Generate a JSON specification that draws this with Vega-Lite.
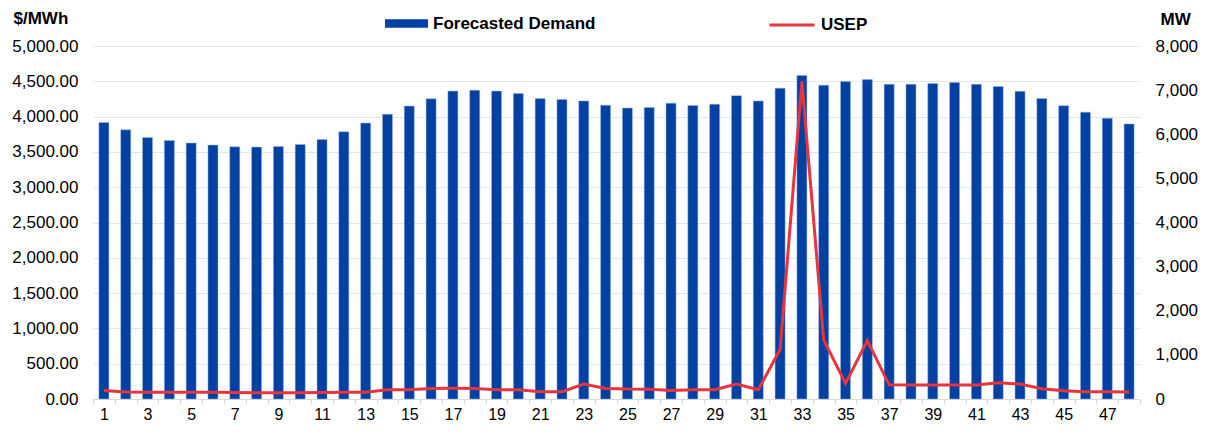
{
  "$schema": "https://vega.github.io/schema/vega-lite/v6.json",
  "width": 1047,
  "height": 353,
  "autosize": {"type": "none"},
  "padding": {"left": 93, "top": 46, "right": 68, "bottom": 33},
  "background": "white",
  "config": {
    "font": "Liberation Sans",
    "view": {"stroke": null},
    "axis": {"labelFont": "Liberation Sans", "titleFont": "Liberation Sans", "labelFontSize": 17, "labelColor": "#000000", "titleColor": "#000000", "labelOverlap": false},
    "legend": {"labelFont": "Liberation Sans", "labelFontSize": 17, "labelFontWeight": "bold", "labelColor": "#000000", "labelLimit": 400}
  },
  "data": {
    "values": [
      {"period": 1, "demand": 6269, "usep": 122},
      {"period": 2, "demand": 6101, "usep": 100},
      {"period": 3, "demand": 5928, "usep": 95},
      {"period": 4, "demand": 5861, "usep": 94},
      {"period": 5, "demand": 5800, "usep": 94},
      {"period": 6, "demand": 5754, "usep": 94},
      {"period": 7, "demand": 5715, "usep": 92},
      {"period": 8, "demand": 5709, "usep": 90},
      {"period": 9, "demand": 5725, "usep": 88},
      {"period": 10, "demand": 5770, "usep": 88},
      {"period": 11, "demand": 5883, "usep": 92},
      {"period": 12, "demand": 6056, "usep": 94},
      {"period": 13, "demand": 6253, "usep": 96},
      {"period": 14, "demand": 6456, "usep": 130},
      {"period": 15, "demand": 6638, "usep": 132},
      {"period": 16, "demand": 6803, "usep": 150},
      {"period": 17, "demand": 6978, "usep": 152},
      {"period": 18, "demand": 7000, "usep": 148},
      {"period": 19, "demand": 6978, "usep": 132},
      {"period": 20, "demand": 6926, "usep": 130},
      {"period": 21, "demand": 6808, "usep": 104},
      {"period": 22, "demand": 6786, "usep": 104},
      {"period": 23, "demand": 6755, "usep": 212},
      {"period": 24, "demand": 6659, "usep": 150},
      {"period": 25, "demand": 6594, "usep": 140},
      {"period": 26, "demand": 6608, "usep": 138},
      {"period": 27, "demand": 6704, "usep": 122},
      {"period": 28, "demand": 6653, "usep": 130},
      {"period": 29, "demand": 6682, "usep": 130},
      {"period": 30, "demand": 6875, "usep": 212},
      {"period": 31, "demand": 6755, "usep": 130},
      {"period": 32, "demand": 7045, "usep": 700},
      {"period": 33, "demand": 7333, "usep": 4500},
      {"period": 34, "demand": 7112, "usep": 835},
      {"period": 35, "demand": 7194, "usep": 222},
      {"period": 36, "demand": 7238, "usep": 826},
      {"period": 37, "demand": 7133, "usep": 200},
      {"period": 38, "demand": 7133, "usep": 198},
      {"period": 39, "demand": 7149, "usep": 198},
      {"period": 40, "demand": 7171, "usep": 198},
      {"period": 41, "demand": 7133, "usep": 200},
      {"period": 42, "demand": 7083, "usep": 231},
      {"period": 43, "demand": 6973, "usep": 212},
      {"period": 44, "demand": 6810, "usep": 146},
      {"period": 45, "demand": 6648, "usep": 118},
      {"period": 46, "demand": 6501, "usep": 103},
      {"period": 47, "demand": 6362, "usep": 102},
      {"period": 48, "demand": 6235, "usep": 100}
    ]
  },
  "encoding": {
    "x": {
      "field": "period",
      "type": "ordinal",
      "sort": null,
      "scale": {"paddingInner": 0, "paddingOuter": 0},
      "axis": {
        "title": null,
        "labelAngle": 0,
        "labelFontSize": 16,
        "labelExpr": "datum.value % 2 == 1 ? datum.label : ''",
        "tickBand": "extent",
        "tickSize": 5,
        "tickColor": "#d9d9d9",
        "domainColor": "#d9d9d9",
        "labelPadding": 2,
        "grid": false
      }
    }
  },
  "layer": [
    {
      "mark": {"type": "bar", "width": {"band": 0.46}, "stroke": "#9fb6de", "strokeWidth": 0.5},
      "encoding": {
        "y": {
          "field": "demand",
          "type": "quantitative",
          "scale": {"domain": [0, 8000], "nice": false},
          "axis": {
            "orient": "right",
            "title": "MW",
            "titleAngle": 0,
            "titleAlign": "left",
            "titleBaseline": "middle",
            "titleFontSize": 17,
            "titleFontWeight": "bold",
            "titleX": 20,
            "titleY": -27,
            "values": [0, 1000, 2000, 3000, 4000, 5000, 6000, 7000, 8000],
            "format": ",.0f",
            "ticks": false,
            "tickSize": 0,
            "domain": false,
            "grid": false,
            "labelPadding": 15
          }
        },
        "fill": {
          "datum": "Forecasted Demand",
          "type": "nominal",
          "scale": {"domain": ["Forecasted Demand"], "range": ["#0041A3"]},
          "legend": {
            "title": null,
            "orient": "none",
            "legendX": 292,
            "legendY": -44,
            "symbolType": "M-1,-0.2H1V0.2H-1Z",
            "symbolSize": 1849,
            "symbolStrokeWidth": 0,
            "labelOffset": 5,
            "padding": 0
          }
        }
      }
    },
    {
      "mark": {"type": "line", "strokeWidth": 3, "interpolate": "linear"},
      "encoding": {
        "y": {
          "field": "usep",
          "type": "quantitative",
          "scale": {"domain": [0, 5000], "nice": false},
          "axis": {
            "orient": "left",
            "title": "$/MWh",
            "titleAngle": 0,
            "titleAlign": "left",
            "titleBaseline": "middle",
            "titleFontSize": 17,
            "titleFontWeight": "bold",
            "titleX": -80,
            "titleY": -28,
            "values": [0, 500, 1000, 1500, 2000, 2500, 3000, 3500, 4000, 4500, 5000],
            "format": ",.2f",
            "ticks": false,
            "tickSize": 0,
            "domain": false,
            "grid": true,
            "gridColor": "#e6e6e6",
            "gridWidth": 1,
            "labelPadding": 15
          }
        },
        "stroke": {
          "datum": "USEP",
          "type": "nominal",
          "scale": {"domain": ["USEP"], "range": ["#E8343F"]},
          "legend": {
            "title": null,
            "orient": "none",
            "legendX": 675,
            "legendY": -45,
            "symbolType": "stroke",
            "symbolSize": 2025,
            "symbolStrokeWidth": 3,
            "labelOffset": 5,
            "padding": 0
          }
        }
      }
    }
  ],
  "resolve": {"scale": {"y": "independent"}}
}
